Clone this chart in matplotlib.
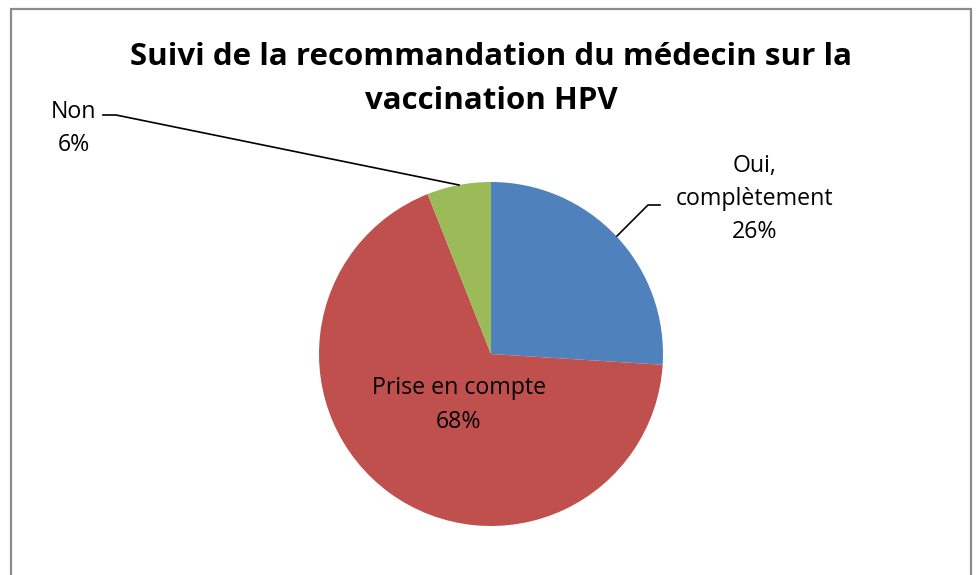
import matplotlib
matplotlib.use("Agg")
import matplotlib.pyplot as plt
from matplotlib.patches import Rectangle

categories = ["Oui,\ncomplètement", "Prise en compte", "Non"]
values = [26, 68, 6]
colors = ["#4F81BD", "#C0504D", "#9BBB59"]
title = "Suivi de la recommandation du médecin sur la\nvaccination HPV"

W, H = 979, 575
fig = plt.figure(figsize=(W / 100, H / 100), dpi=100)
ax = fig.add_axes([0, 0, 1, 1])

plt.rcParams["font.family"] = ["Open Sans", "DejaVu Sans"]

cx, cy, r = 491, H - 354, 172
wedges, _ = ax.pie(values, colors=colors, startangle=90, counterclock=False,
                   center=(cx, cy), radius=r, frame=True,
                   wedgeprops=dict(linewidth=0))
ax.set_xlim(0, W)
ax.set_ylim(0, H)
ax.set_aspect("equal")
ax.axis("off")

# chart frame
ax.add_patch(Rectangle((11, -10), 960, H - 9 + 10, fill=False,
                       edgecolor="#8c8c8c", linewidth=1.6))

ax.text(491, H - 79, title, ha="center", va="center", fontsize=22.5,
        fontweight="bold", linespacing=1.58)

lab_kw = dict(fontsize=16.7, color="black", linespacing=1.5)
pct = [f"{v}%" for v in values]

# Oui, complètement
ax.text(755, H - 199, f"{categories[0]}\n{pct[0]}", ha="center", va="center", **lab_kw)
ax.plot([617, 648, 660], [H - 236, H - 205, H - 205], color="black", lw=1.2)

# Prise en compte
ax.text(459, H - 405, f"{categories[1]}\n{pct[1]}", ha="center", va="center", **lab_kw)

# Non
ax.text(74, H - 128, f"{categories[2]}\n{pct[2]}", ha="center", va="center", **lab_kw)
ax.plot([459, 116, 103], [H - 185, H - 115, H - 115], color="black", lw=1.2)

fig.savefig("out.png", dpi=100)
